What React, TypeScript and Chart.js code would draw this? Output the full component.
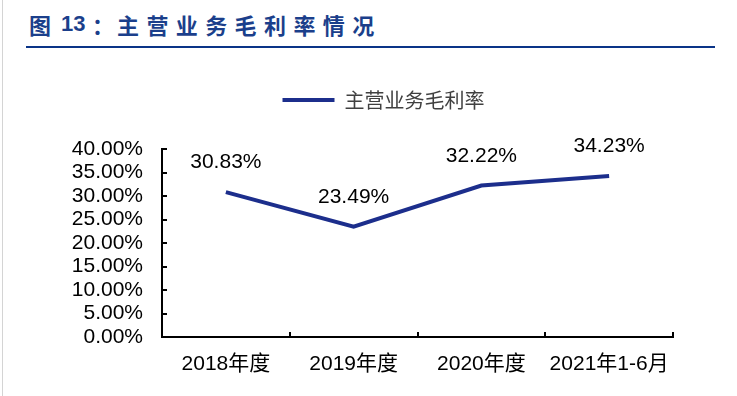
import React, { useEffect, useRef } from "react";
import { Chart, registerables } from "chart.js";

Chart.register(...registerables);

const categories = ["2018年度", "2019年度", "2020年度", "2021年1-6月"];
const grossMargin = [30.83, 23.49, 32.22, 34.23];
const seriesName = "主营业务毛利率";
const yMin = 0;
const yMax = 40;
const yStep = 5;

const NAVY = "#1c2e8c";
const NUM_FONT = "'Liberation Sans', Arial, 'Noto Sans CJK SC', sans-serif";

const dataLabelsPlugin = {
  id: "dataLabels",
  afterDatasetsDraw(chart: any) {
    const ctx = chart.ctx;
    const meta = chart.getDatasetMeta(0);
    const ds = chart.data.datasets[0];
    ctx.save();
    ctx.font = `21px ${NUM_FONT}`;
    ctx.fillStyle = "#000";
    ctx.textAlign = "center";
    ctx.textBaseline = "middle";
    meta.data.forEach((pt: any, i: number) => {
      ctx.fillText((ds.data[i] as number).toFixed(2) + "%", pt.x, pt.y - 29.5);
    });
    ctx.restore();
  },
};

const innerTicksPlugin = {
  id: "innerTicks",
  afterDraw(chart: any) {
    const ctx = chart.ctx;
    const { left, bottom } = chart.chartArea;
    const ys = chart.scales.y;
    const xs = chart.scales.x;
    ctx.save();
    ctx.strokeStyle = "#000";
    ctx.lineWidth = 2;
    ctx.beginPath();
    ys.ticks.forEach((t: any) => {
      const py = Math.round(ys.getPixelForValue(t.value));
      ctx.moveTo(left, py);
      ctx.lineTo(left + 5, py);
    });
    const n = chart.data.labels.length;
    const half = (xs.getPixelForValue(1) - xs.getPixelForValue(0)) / 2;
    for (let i = 0; i < n; i++) {
      const px = Math.round(xs.getPixelForValue(i) + half);
      ctx.moveTo(px, bottom);
      ctx.lineTo(px, bottom - 5);
    }
    ctx.stroke();
    ctx.restore();
  },
};

export default function App() {
  const canvasRef = useRef<HTMLCanvasElement | null>(null);

  useEffect(() => {
    if (!canvasRef.current) return;
    const chart = new Chart(canvasRef.current, {
      type: "line",
      data: {
        labels: categories,
        datasets: [
          {
            label: seriesName,
            data: grossMargin,
            borderColor: NAVY,
            backgroundColor: NAVY,
            borderWidth: 4,
            pointRadius: 0,
            tension: 0,
            fill: false,
          },
        ],
      },
      options: {
        responsive: false,
        animation: false,
        devicePixelRatio: 1,
        layout: { padding: { left: 0, right: 0, top: 80, bottom: 0 } },
        plugins: {
          tooltip: { enabled: false },
          legend: {
            display: true,
            position: "top",
            align: "center",
            weight: 3000,
            labels: {
              usePointStyle: true,
              pointStyle: "line",
              pointStyleWidth: 52,
              padding: 10,
              color: "#404040",
              font: { size: 20, family: "'Noto Sans CJK SC', sans-serif" },
            },
          },
          title: {
            display: true,
            text: "",
            font: { size: 1 },
            padding: { top: 0, bottom: 27.8 },
          },
        },
        scales: {
          x: {
            offset: true,
            grid: { display: false, drawTicks: false, drawOnChartArea: false },
            border: { display: true, color: "#000", width: 2 },
            ticks: {
              color: "#000",
              padding: 15,
              maxRotation: 0,
              autoSkip: false,
              font: { size: 21, family: NUM_FONT },
            },
            afterFit(scale: any) {
              scale.height = 59;
            },
          },
          y: {
            min: yMin,
            max: yMax,
            grid: { display: false, drawTicks: false, drawOnChartArea: false },
            border: { display: true, color: "#000", width: 2 },
            ticks: {
              stepSize: yStep,
              autoSkip: false,
              color: "#000",
              padding: 19,
              font: { size: 21, family: NUM_FONT, lineHeight: 1 },
              callback: (v: any) => Number(v).toFixed(2) + "%",
            },
            afterFit(scale: any) {
              scale.width = 162;
            },
          },
          spacerRight: {
            type: "linear",
            position: "right",
            display: true,
            grid: { display: false, drawTicks: false, drawOnChartArea: false },
            border: { display: false },
            ticks: { display: false },
            afterFit(scale: any) {
              scale.width = 94;
            },
          },
        },
      },
      plugins: [dataLabelsPlugin, innerTicksPlugin],
    });
    return () => chart.destroy();
  }, []);

  const titleColor = "#1b3f8b";
  const titleFont = "'Noto Sans CJK SC', sans-serif";

  return (
    <div
      style={{
        position: "fixed",
        left: 0,
        top: 0,
        width: 737,
        height: 396,
        background: "#fff",
        overflow: "hidden",
      }}
    >
      <div style={{ position: "absolute", left: 2, top: 0, width: 1, height: 396, background: "#d4d4d4" }} />
      <div
        style={{
          position: "absolute",
          left: 29,
          top: 9,
          color: titleColor,
          fontFamily: titleFont,
          fontWeight: 700,
          fontSize: 22,
          lineHeight: "30px",
          whiteSpace: "nowrap",
        }}
      >
        图
      </div>
      <div
        style={{
          position: "absolute",
          left: 61,
          top: 9,
          color: titleColor,
          fontFamily: "'Liberation Sans', Arial, sans-serif",
          fontWeight: 700,
          fontSize: 22,
          lineHeight: "30px",
          whiteSpace: "nowrap",
        }}
      >
        13
      </div>
      <div
        style={{
          position: "absolute",
          left: 92,
          top: 9,
          color: titleColor,
          fontFamily: titleFont,
          fontWeight: 700,
          fontSize: 22,
          lineHeight: "30px",
          whiteSpace: "nowrap",
        }}
      >
        ：
      </div>
      <div
        style={{
          position: "absolute",
          left: 117,
          top: 9,
          color: titleColor,
          fontFamily: titleFont,
          fontWeight: 700,
          fontSize: 22,
          letterSpacing: 7.4,
          lineHeight: "30px",
          whiteSpace: "nowrap",
        }}
      >
        主营业务毛利率情况
      </div>
      <div style={{ position: "absolute", left: 26, top: 46, width: 689, height: 2, background: "#0a3487" }} />
      <canvas
        ref={canvasRef}
        width={767}
        height={396}
        style={{ position: "absolute", left: 0, top: 0, width: 767, height: 396 }}
      />
    </div>
  );
}
